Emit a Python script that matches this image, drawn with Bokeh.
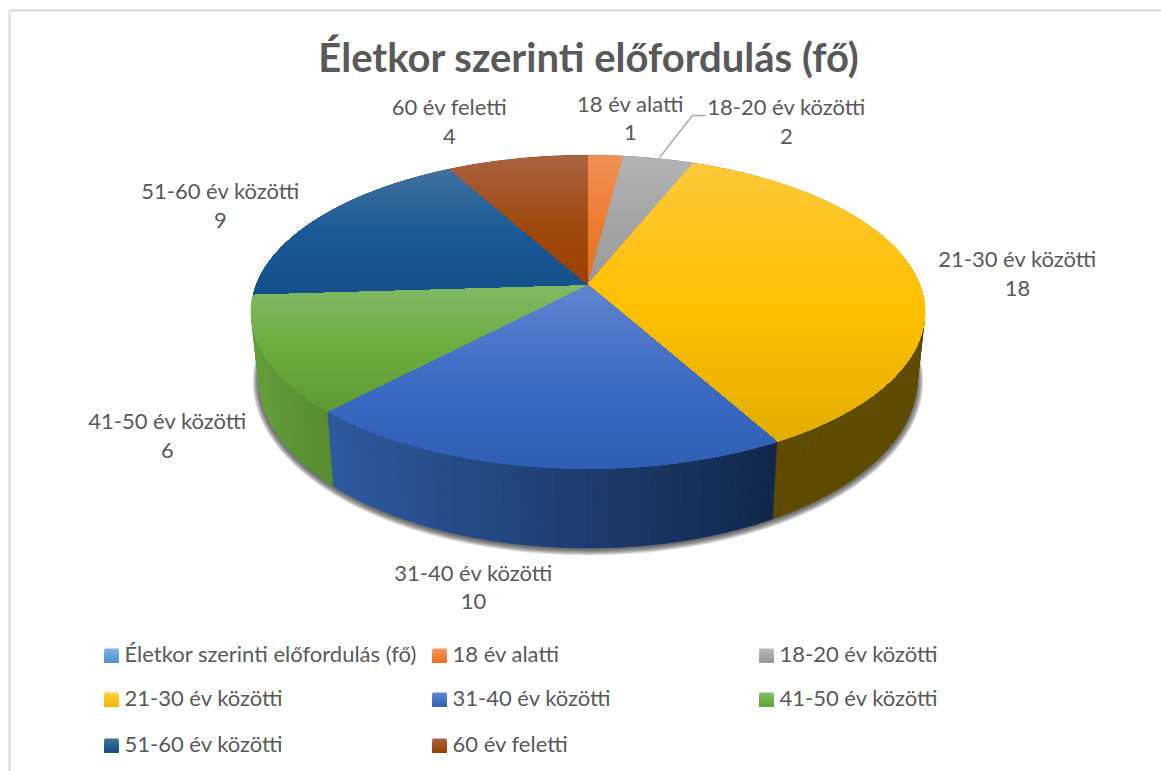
import math
from bokeh.plotting import figure
from bokeh.models import Range1d
from bokeh.core.properties import value
from bokeh.embed import file_html
from bokeh.resources import INLINE

# ---- data
title = "Életkor szerinti előfordulás (fő)"
categories = ["18 év alatti", "18-20 év közötti", "21-30 év közötti", "31-40 év közötti",
              "41-50 év közötti", "51-60 év közötti", "60 év feletti"]
counts = [1, 2, 18, 10, 6, 9, 4]
legend_entries = [title] + categories

# ---- styles
top_stops = [
    ("#f18f55", "#ed7d31", "#e0701f"),
    ("#b3b3b3", "#a5a5a5", "#9a9a9a"),
    ("#fdc83a", "#ffc000", "#e2ad00"),
    ("#5f85d0", "#3d6cc4", "#2e5fb4"),
    ("#82b866", "#6cac3e", "#5e9a35"),
    ("#41709e", "#1a5a96", "#15508a"),
    ("#aa6340", "#a04b12", "#9c4000"),
]
side_stops = [
    ("#8a4a1c", "#8a4a1c"), ("#5f5f5f", "#5f5f5f"),
    ("#5f4b00", "#5f4b00"), ("#2d5aa0", "#12264a"),
    ("#659f3c", "#558c2e"), ("#123a5f", "#123a5f"), ("#5f2c08", "#5f2c08"),
]
legend_colors = [("#7fb3e2", "#4e93d1"), ("#f5975e", "#ec7120"), ("#b8b8b8", "#979797"),
                 ("#ffd13f", "#f4b800"), ("#5f85d0", "#3263bd"), ("#84ba66", "#62a632"),
                 ("#41709e", "#164f85"), ("#aa6340", "#9a3f00")]
TXT = "#595959"
FONT = "Lato"
TFONT = "Lato"
OX, OY = 0, 0
W, H = 1161, 771
CX = 587.5
PERSP = 0.1757
TOP = dict(k=331.5, a=284.0, b=-101.8)
BOT = dict(k=324.0, a=349.0, b=-102.4)

label_pos = [(630, 103, 132), (786, 106, 136), (1017, 258, 288), (473, 572, 601),
             (167, 420, 450), (220, 190, 220), (449, 106, 136)]
legend_pos = [(104, 655), (432, 655), (759, 655), (104, 699), (432, 699), (759, 699), (104, 745), (432, 745)]


def project(theta, s):
    u, v = math.sin(theta), math.cos(theta)
    d = 1 + PERSP * v
    return CX + s["k"] * u / d, (s["a"] + s["b"] * v) / d


def hex2rgb(h):
    return tuple(int(h[i:i + 2], 16) for i in (1, 3, 5))


def mix(c1, c2, t):
    a, b = hex2rgb(c1), hex2rgb(c2)
    return "#%02x%02x%02x" % tuple(round(a[i] + (b[i] - a[i]) * t) for i in range(3))


def grad3(stops, t):
    return mix(stops[0], stops[1], t * 2) if t < .5 else mix(stops[1], stops[2], t * 2 - 1)


def clip_below(poly, y0):
    out = []
    n = len(poly)
    for i in range(n):
        p, q = poly[i], poly[(i + 1) % n]
        pin, qin = p[1] >= y0, q[1] >= y0
        if pin:
            out.append(p)
        if pin != qin:
            t = (y0 - p[1]) / (q[1] - p[1])
            out.append((p[0] + (q[0] - p[0]) * t, y0))
    return out


p = figure(width=W, height=H, x_range=Range1d(OX, OX + W), y_range=Range1d(OY + H, OY),
           toolbar_location=None, output_backend="svg", min_border=0,
           x_axis_location=None, y_axis_location=None, outline_line_color=None)
p.grid.visible = False

# chart frame
p.line([9, 9], [771, 10], line_color="#d9d9d9", line_width=2)
p.line([9, 1161], [10, 10], line_color="#d9d9d9", line_width=2)

# soft shadow under the pie
circle = [math.radians(a) for a in range(0, 360, 3)]
bx, by = zip(*[project(t, BOT) for t in circle])
ybc = 349
for e in [6, 5, 4, 3, 2, 1]:
    xs = [CX + (x - CX) * (1 + e / 324) for x in bx]
    ys = [ybc + (y - ybc) * (1 + e / 195) + 1 for y in by]
    p.patch(xs, ys, fill_color="#303030", fill_alpha=0.17, line_color=None)

total = sum(counts)
edges = [0]
for c in counts:
    edges.append(edges[-1] + c)
angles = [2 * math.pi * e / total for e in edges]

# walls: back to front
sx, sy, sc = [], [], []
order = sorted(range(len(counts)), key=lambda i: -math.cos((angles[i] + angles[i + 1]) / 2))
for i in order:
    a0, a1 = angles[i], angles[i + 1]
    steps = max(2, int(math.degrees(a1 - a0) / 1.5))
    ts = [a0 + (a1 - a0) * j / steps for j in range(steps + 1)]
    xr = [project(t, BOT)[0] for t in ts]
    xmin, xmax = min(xr), max(xr)
    for j in range(steps):
        t0, t1 = ts[j], ts[j + 1]
        q = [project(t0, TOP), project(t1, TOP), project(t1, BOT), project(t0, BOT)]
        c = mix(side_stops[i][0], side_stops[i][1], ((xr[j] + xr[j + 1]) / 2 - xmin) / max(xmax - xmin, 1))
        sx.append([a[0] for a in q])
        sy.append([a[1] for a in q])
        sc.append(c)
p.patches(sx, sy, fill_color=sc, line_color=sc, line_width=0.6)

# top surface: base wedges, then graded bands
tx, ty, tc, bx2, by2, bc2 = [], [], [], [], [], []
for i in range(len(counts)):
    a0, a1 = angles[i], angles[i + 1]
    steps = max(4, int(math.degrees(a1 - a0)))
    poly = [(CX, TOP["a"])] + [project(a0 + (a1 - a0) * j / steps, TOP) for j in range(steps + 1)]
    ymin = min(a[1] for a in poly)
    ymax = max(a[1] for a in poly)
    tx.append([a[0] for a in poly])
    ty.append([a[1] for a in poly])
    tc.append(top_stops[i][1])
    y = ymin
    while y < ymax:
        part = clip_below(poly, y)
        if len(part) >= 3:
            bx2.append([a[0] for a in part])
            by2.append([a[1] for a in part])
            bc2.append(grad3(top_stops[i], (y - ymin) / (ymax - ymin)))
        y += 2.5
p.patches(tx, ty, fill_color=tc, line_color=tc, line_width=0.8)
p.patches(bx2, by2, fill_color=bc2, line_color=None)

# leader line of the second slice
p.line([659, 692, 705], [157, 115, 115], line_color="#a6a6a6", line_width=1.3)

# title
p.text([CX + 1], [56], text=[title], text_font=value(TFONT), text_font_style="bold",
       text_font_size="40px", text_color=TXT, text_align="center", text_baseline="middle")

# data labels
for name, n, (x, y0, y1) in zip(categories, counts, label_pos):
    p.text([x], [y0], text=[name], text_font=value(FONT), text_font_size="22px", text_color=TXT,
           text_align="center", text_baseline="middle")
    p.text([x], [y1], text=[str(n)], text_font=value(FONT), text_font_size="22px", text_color=TXT,
           text_align="center", text_baseline="middle")

# legend
for name, cols, (x, y) in zip(legend_entries, legend_colors, legend_pos):
    for k in range(14):
        c = mix(cols[0], cols[1], k / 13)
        p.quad(left=[x], right=[x + 14], top=[y - 7 + k], bottom=[y + 7], fill_color=c, line_color=None)
    p.text([x + 20], [y - 2], text=[name], text_font=value(FONT), text_font_size="22px", text_color=TXT,
           text_align="left", text_baseline="middle")

open("out.html", "w").write(file_html(p, INLINE))
